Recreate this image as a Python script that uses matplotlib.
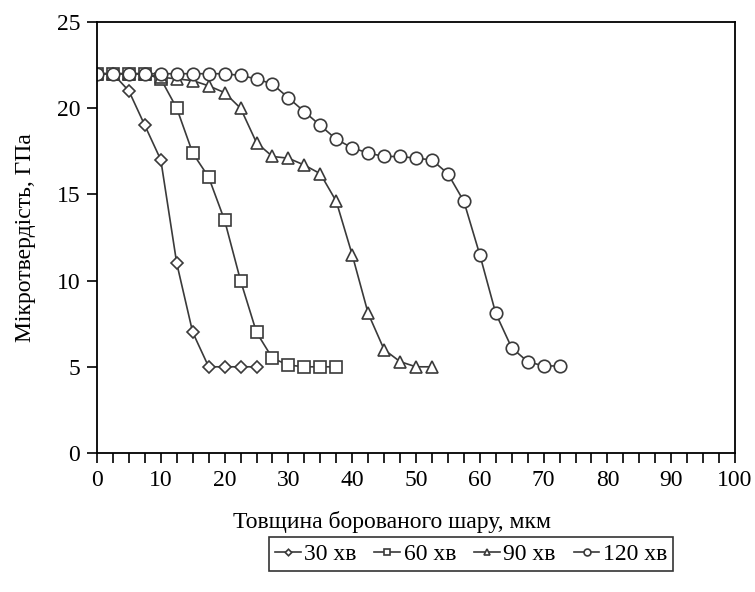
import matplotlib
matplotlib.use("Agg")
import matplotlib.pyplot as plt
from matplotlib.ticker import MultipleLocator

plt.rcParams["font.family"] = ["Liberation Serif", "DejaVu Serif"]

# Data
x30 = [0, 2.5, 5, 7.5, 10, 12.5, 15, 17.5, 20, 22.5, 25]
y30 = [22, 22, 21, 19, 17, 11, 7, 5, 5, 5, 5]

x60 = [0, 2.5, 5, 7.5, 10, 12.5, 15, 17.5, 20, 22.5, 25, 27.5, 30, 32.5, 35, 37.5]
y60 = [22, 22, 22, 22, 21.7, 20, 17.4, 16, 13.5, 10, 7, 5.5, 5.1, 5, 5, 5]

x90 = [0, 2.5, 5, 7.5, 10, 12.5, 15, 17.5, 20, 22.5, 25, 27.5, 30, 32.5, 35,
       37.5, 40, 42.5, 45, 47.5, 50, 52.5]
y90 = [22, 22, 22, 22, 21.8, 21.7, 21.6, 21.3, 20.9, 20, 18, 17.2, 17.1, 16.7,
       16.2, 14.6, 11.5, 8.1, 6, 5.3, 5, 5]

x120 = [0, 2.5, 5, 7.5, 10, 12.5, 15, 17.5, 20, 22.5, 25, 27.5, 30, 32.5, 35,
        37.5, 40, 42.5, 45, 47.5, 50, 52.5, 55, 57.5, 60, 62.5, 65, 67.5, 70, 72.5]
y120 = [22, 22, 22, 22, 22, 22, 22, 22, 22, 21.9, 21.7, 21.4, 20.6, 19.8, 19.0,
        18.2, 17.7, 17.4, 17.2, 17.2, 17.1, 17.0, 16.2, 14.6, 11.5, 8.1, 6.1,
        5.3, 5.05, 5.05]

labels = ["30 хв", "60 хв", "90 хв", "120 хв"]

fig = plt.figure(figsize=(7.55, 5.92), dpi=100)
ax = fig.add_axes([97 / 755, 1 - 453 / 592, 638 / 755, 431 / 592])

col = "#3a3a3a"
style = dict(color=col, lw=1.2, markerfacecolor="white", markeredgecolor=col,
             markeredgewidth=1.2)
ax.plot(x30, y30, marker="D", ms=6, label=labels[0], **style)
ax.plot(x60, y60, marker="s", ms=9, label=labels[1], **style)
ax.plot(x90, y90, marker="^", ms=9, label=labels[2], **style)
ax.plot(x120, y120, marker="o", ms=9, label=labels[3], **style)

ax.set_xlim(0, 100)
ax.set_ylim(0, 25)
ax.xaxis.set_major_locator(MultipleLocator(10))
ax.xaxis.set_minor_locator(MultipleLocator(2.5))
ax.yaxis.set_major_locator(MultipleLocator(5))
ax.tick_params(axis="both", which="both", direction="out", length=7,
               width=1.2, color="black", labelsize=17, pad=5)
ax.tick_params(axis="y", which="minor", length=0)
for s in ax.spines.values():
    s.set_linewidth(1.3)
    s.set_color("black")

ax.set_xlabel("Товщина борованого шару, мкм", fontsize=17)
ax.xaxis.set_label_coords(0.462, -0.135)
ax.set_ylabel("Мікротвердість, ГПа", fontsize=17)
ax.yaxis.set_label_coords(-0.095, 0.5)

leg = fig.legend(loc="center", bbox_to_anchor=(471 / 755, 1 - 554 / 592),
                 ncol=4, fontsize=17, frameon=True, fancybox=False,
                 markerscale=0.55, handlelength=1.1, handletextpad=0.15,
                 columnspacing=0.75, borderpad=0.25, borderaxespad=0)
leg.get_frame().set_edgecolor("black")
leg.get_frame().set_linewidth(1.2)

fig.savefig("out.png", dpi=100)
